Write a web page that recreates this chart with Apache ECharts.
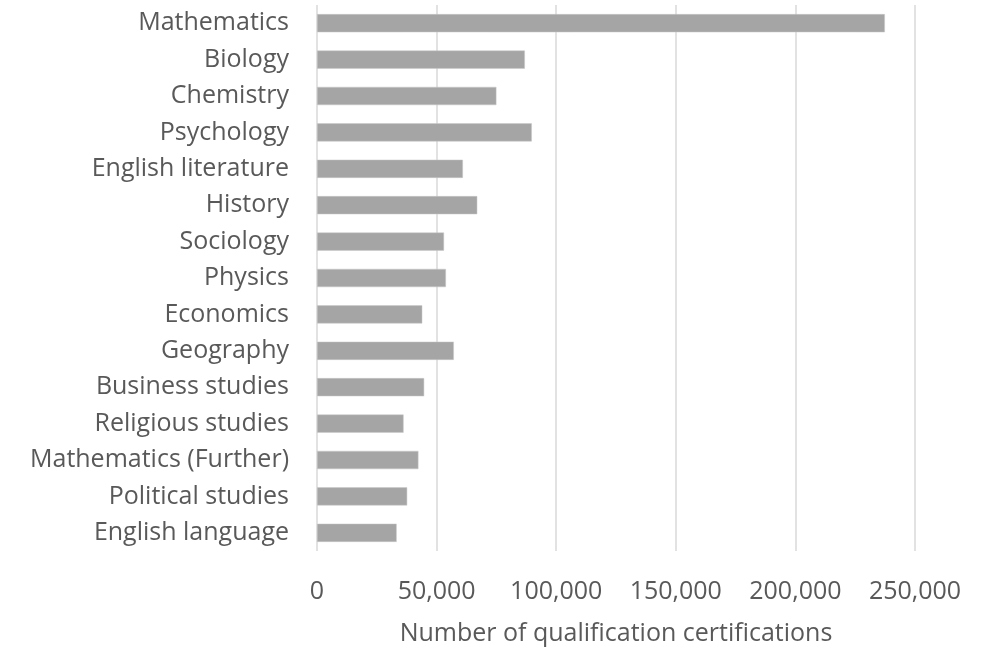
<!DOCTYPE html>
<html>
<head>
<meta charset="utf-8">
<script src="https://cdn.jsdelivr.net/npm/echarts@6/dist/echarts.min.js"></script>
<style>html,body{margin:0;padding:0;background:#fff}#c{width:987px;height:649px}</style>
</head>
<body>
<div id="c"></div>
<script>
const categories = ["Mathematics","Biology","Chemistry","Psychology","English literature","History","Sociology","Physics","Economics","Geography","Business studies","Religious studies","Mathematics (Further)","Political studies","English language"];
const values = [237400,86900,75000,89800,61000,67000,53100,53900,44000,57200,44800,36200,42400,37700,33300];
const xTicks = [0,50000,100000,150000,200000,250000];
const xTitle = "Number of qualification certifications";

const font = "'Open Sans', sans-serif";
const chart = echarts.init(document.getElementById('c'));
chart.setOption({
  animation:false,
  grid:{left:317,right:72,top:5,bottom:98,containLabel:false,outerBoundsMode:'none'},
  xAxis:{type:'value',min:xTicks[0],max:xTicks[xTicks.length-1],interval:xTicks[1]-xTicks[0],
    axisLine:{show:false},axisTick:{show:false},
    splitLine:{show:true,lineStyle:{color:'#d9d9d9',width:1.5}},
    axisLabel:{margin:28,fontSize:25,color:'#595959',fontFamily:font,
      formatter:v=>v.toLocaleString('en-US')},
    name:xTitle,nameLocation:'middle',nameGap:70,
    nameTextStyle:{fontSize:25,color:'#595959',fontFamily:font}},
  yAxis:{type:'category',data:categories,inverse:true,
    axisLine:{show:false},axisTick:{show:false},
    axisLabel:{margin:28,fontSize:25,color:'#595959',fontFamily:font,padding:[6,0,0,0]}},
  series:[{type:'bar',data:values,barCategoryGap:'50%',
    itemStyle:{color:'#a5a5a5',borderColor:'#c8c8c8',borderWidth:0.5}}]
});
</script>
</body>
</html>
